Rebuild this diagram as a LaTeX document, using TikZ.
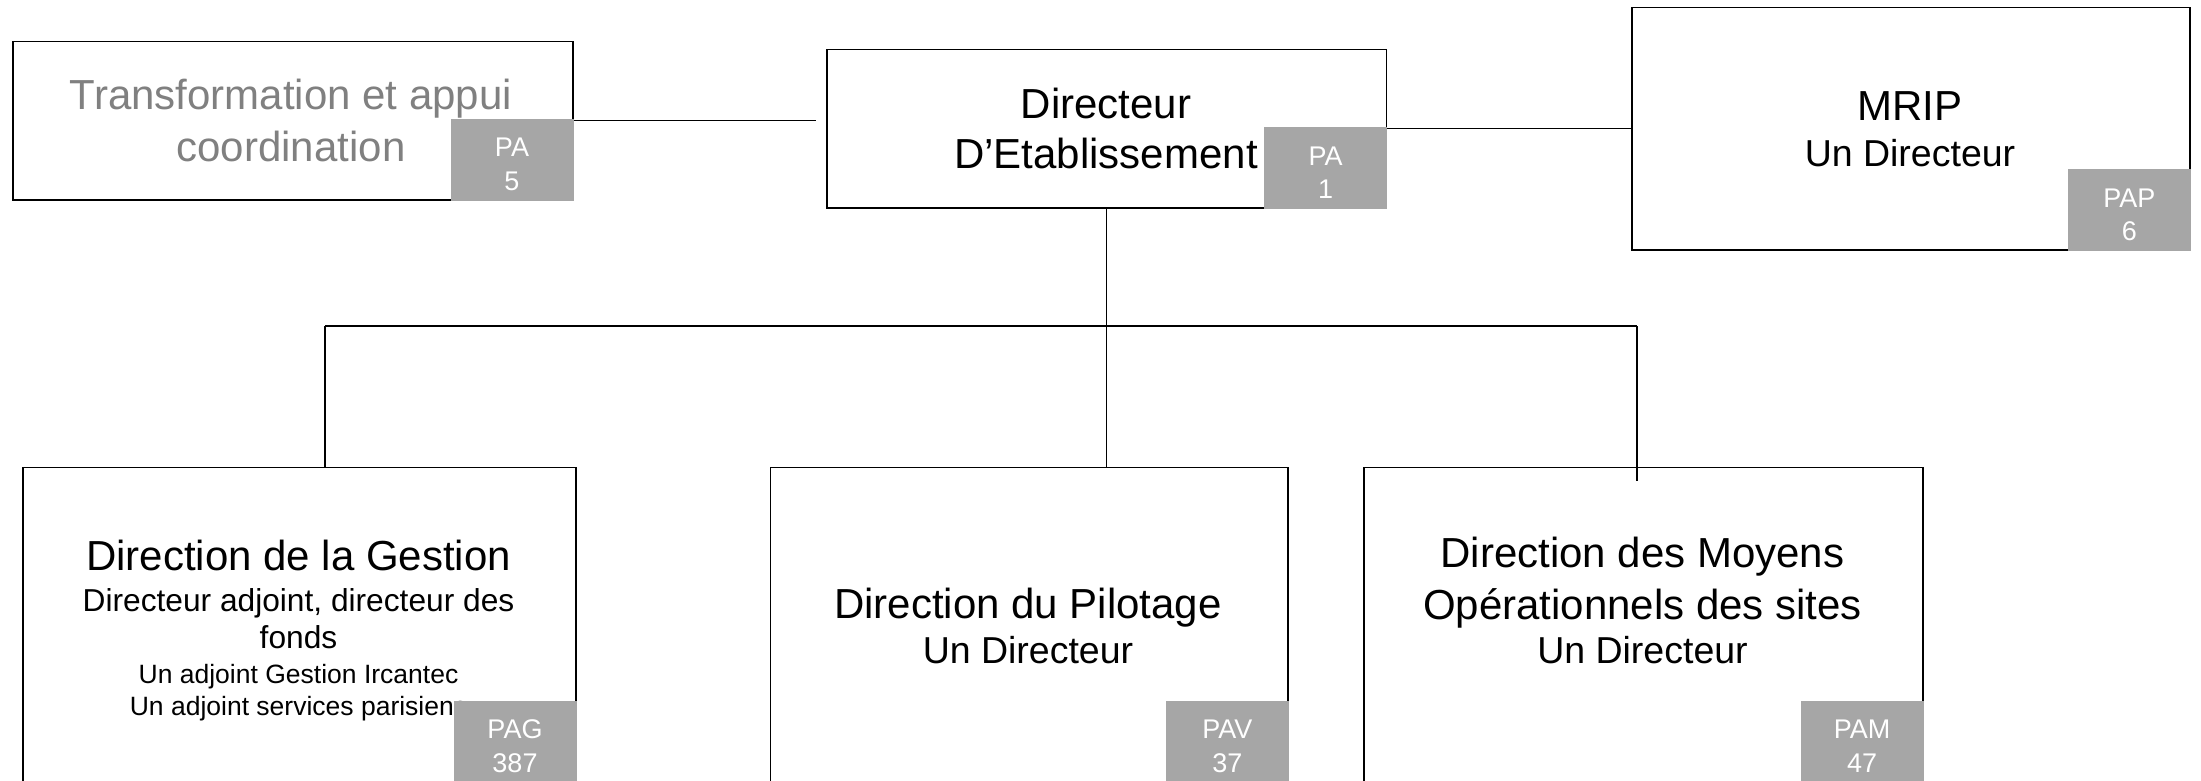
\documentclass[tikz,border=0pt]{standalone}
\usepackage{fontspec}
\setmainfont{Liberation Sans}
\definecolor{tagGrey}{HTML}{A6A6A6}
\definecolor{transGrey}{HTML}{808080}
\begin{document}
\begin{tikzpicture}[x=1pt,y=-1pt,
  box/.style={draw, line width=1.5pt, rectangle, inner sep=0pt, anchor=north west},
  tag/.style={fill=tagGrey, rectangle, inner sep=0pt, outer sep=0pt, minimum width=123pt, minimum height=81pt},
  tagtxt/.style={anchor=base, inner sep=0pt, text=white, font=\fontsize{27}{33.5}\selectfont},
  conn/.style={line width=1.1pt},
  big/.style={anchor=base, inner sep=0pt, font=\fontsize{42}{50}\selectfont},
  sub/.style={anchor=base, inner sep=0pt, font=\fontsize{37.5}{45}\selectfont},
  mid/.style={anchor=base, inner sep=0pt, font=\fontsize{31.7}{38}\selectfont},
  small/.style={anchor=base, inner sep=0pt, font=\fontsize{26.5}{32}\selectfont}]
\useasboundingbox (0,0) rectangle (2201,781);
\begin{scope}
\clip (0,0) rectangle (2201,781);
% boxes
\node[box, minimum width=560pt, minimum height=158pt] (T) at (12,41) {};
\node[box, minimum width=559.5pt, minimum height=158pt] (D) at (826,49) {};
\node[box, minimum width=558.4pt, minimum height=242pt] (M) at (1631,7) {};
\node[box, minimum width=552.6pt, minimum height=340pt] (G) at (22.4,466.7) {};
\node[box, minimum width=517.7pt, minimum height=340pt] (P) at (769.6,466.7) {};
\node[box, minimum width=559pt, minimum height=340pt] (Mo) at (1363,466.7) {};
% connectors
\draw[conn, shorten >=10pt] (T.east) -- (T.east -| D.west);
\draw[conn] (D.east) -- (D.east -| M.west);
\draw[conn] (D.south) -- (D.south |- P.north);
\coordinate (busL) at (325,326);
\coordinate (busR) at (1637,326);
\coordinate (dropEnd) at (1637,481);
\draw[conn] (busL) -- (busR);
\draw[conn] (busL) -- (busL |- G.north);
\draw[conn] (busR) -- (dropEnd);
% texts
\node[big, text=transGrey] (T1) at (291,110) {Transformation et appui};
\node[big, text=transGrey] (T2) at (291,161) {coordination};
\node[big] (D1) at (1106,118.5) {Directeur};
\node[big] (D2) at (1106,168.5) {D’Etablissement};
\node[big] (M1) at (1910,121) {MRIP};
\node[sub] (M2) at (1910,167) {Un Directeur};
\node[big] (G1) at (298.5,570.7) {Direction de la Gestion};
\node[mid] (G2) at (298.5,611.7) {Directeur adjoint, directeur des};
\node[mid] (G3) at (298.5,648) {fonds};
\node[small] (G4) at (298.5,683) {Un adjoint Gestion Ircantec};
\node[small] (G5) at (298.5,715) {Un adjoint services parisiens};
\node[big] (P1) at (1028,618.5) {Direction du Pilotage};
\node[sub] (P2) at (1028,663) {Un Directeur};
\node[big] (Mo1) at (1642.5,567.7) {Direction des Moyens};
\node[big] (Mo2) at (1642.5,619) {Opérationnels des sites};
\node[sub] (Mo3) at (1642.5,663) {Un Directeur};
% tags
\coordinate (gy) at (0,701);
\node[tag, anchor=south east] (tagT) at (T.south east) {};
\node[tag, anchor=south east] (tagD) at (D.south east) {};
\node[tag, anchor=south east] (tagM) at (M.south east) {};
\node[tag, anchor=north east] (tagG) at (G.east |- gy) {};
\node[tag, anchor=north east] (tagP) at (P.east |- gy) {};
\node[tag, anchor=north east] (tagMo) at (Mo.east |- gy) {};
\node[tagtxt] (tagTt) at ([yshift=-37.5pt]tagT.north) {\begin{tabular}[t]{@{}c@{}}PA\\5\end{tabular}};
\node[tagtxt] (tagDt) at ([yshift=-37.5pt]tagD.north) {\begin{tabular}[t]{@{}c@{}}PA\\1\end{tabular}};
\node[tagtxt] (tagMt) at ([yshift=-37.5pt]tagM.north) {\begin{tabular}[t]{@{}c@{}}PAP\\6\end{tabular}};
\node[tagtxt] (tagGt) at ([yshift=-37.5pt]tagG.north) {\begin{tabular}[t]{@{}c@{}}PAG\\387\end{tabular}};
\node[tagtxt] (tagPt) at ([yshift=-37.5pt]tagP.north) {\begin{tabular}[t]{@{}c@{}}PAV\\37\end{tabular}};
\node[tagtxt] (tagMot) at ([yshift=-37.5pt]tagMo.north) {\begin{tabular}[t]{@{}c@{}}PAM\\47\end{tabular}};
\end{scope}
\end{tikzpicture}
\end{document}
